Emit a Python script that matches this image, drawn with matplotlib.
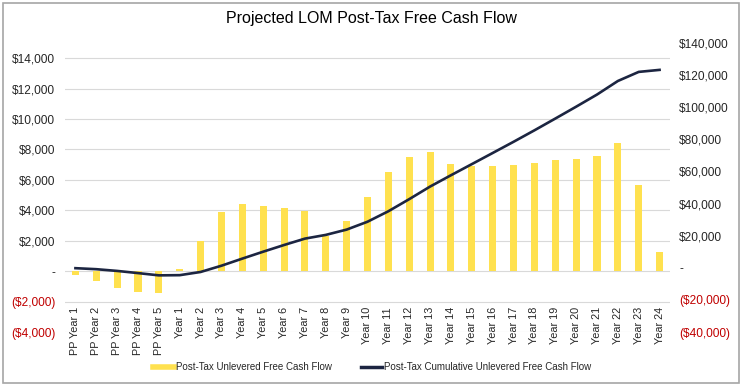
import numpy as np
import matplotlib
matplotlib.use("Agg")
import matplotlib.pyplot as plt
from matplotlib.lines import Line2D
from matplotlib.patches import Rectangle

plt.rcParams['font.family'] = ['Liberation Sans', 'DejaVu Sans']

# data
categories = ["PP Year 1", "PP Year 2", "PP Year 3", "PP Year 4", "PP Year 5"] + \
             [f"Year {i}" for i in range(1, 25)]
fcf = [-250, -630, -1080, -1350, -1410,
       120, 1990, 3900, 4420, 4310, 4160, 3980, 2320, 3300, 4900,
       6530, 7530, 7840, 7050, 6920, 6940, 6970, 7140, 7320, 7400,
       7560, 8450, 5670, 1260]
cum_fcf = [-250, -880, -1960, -3310, -4720,
           -4600, -2610, 1290, 5710, 10020, 14180, 18160, 20480, 23780, 28680,
           35210, 42740, 50580, 57630, 64550, 71490, 78460, 85600, 92920, 100320,
           107880, 116330, 122000, 123260]
left_ticks = [-4000, -2000, 0, 2000, 4000, 6000, 8000, 10000, 12000, 14000]
right_ticks = [-40000, -20000, 0, 20000, 40000, 60000, 80000, 100000, 120000, 140000]

bar_color = "#FFE14F"
line_color = "#1C2541"
neg_color = "#C00000"
txt_color = "#262626"

W, H = 743, 388
fig = plt.figure(figsize=(W / 100, H / 100), dpi=100)
ax = fig.add_axes([65 / W, (H - 332) / H, (670 - 65) / W, (332 - 43) / H])
ax2 = ax.twinx()

x = np.arange(len(categories))
ax.bar(x, fcf, width=0.34, color=bar_color, zorder=2)
ax2.plot(x, cum_fcf, color=line_color, lw=1.9, zorder=3)

ax.set_xlim(-0.5, len(categories) - 0.5)
ax.set_ylim(-4000, 15000)
ax2.set_ylim(-40000, 140000)


def money(v):
    if v == 0:
        return "-"
    if v < 0:
        return f"(${-v:,.0f})"
    return f"${v:,.0f}"


ax.set_yticks(left_ticks)
ax.set_yticklabels([money(v) for v in left_ticks])
ax2.set_yticks(right_ticks)
ax2.set_yticklabels([money(v) for v in right_ticks])
for lab, v in zip(ax.get_yticklabels(), left_ticks):
    lab.set_color(neg_color if v < 0 else txt_color)
for lab, v in zip(ax2.get_yticklabels(), right_ticks):
    lab.set_color(neg_color if v < 0 else txt_color)

ax.grid(axis='y', color="#D9D9D9", lw=0.8, zorder=0)
ax.set_axisbelow(True)
for a in (ax, ax2):
    for s in a.spines.values():
        s.set_visible(False)
ax.tick_params(axis='y', length=0, pad=7, labelsize=8.6)
ax2.tick_params(axis='y', length=0, pad=6.5, labelsize=8.6)

ax.set_xticks(x)
ax.set_xticklabels(categories, rotation=90, fontsize=7.8, color=txt_color)
ax.tick_params(axis='x', length=0, pad=-18)

fig.text(371 / W, 1 - 19 / H, "Projected LOM Post-Tax Free Cash Flow",
         ha='center', va='center', fontsize=11.5, color="#000000")

handles = [Line2D([], [], color=bar_color, lw=4),
           Line2D([], [], color=line_color, lw=2.5)]
fig.legend(handles, ["Post-Tax Unlevered Free Cash Flow",
                     "Post-Tax Cumulative Unlevered Free Cash Flow"],
           loc='center', bbox_to_anchor=(372 / W, 1 - 367 / H), ncol=2,
           frameon=False, fontsize=7.0, handlelength=2.2, handletextpad=0.15,
           columnspacing=3.0, labelcolor=txt_color)

fig.patches.append(Rectangle((3 / W, 5 / H), 736 / W, 380 / H, transform=fig.transFigure,
                             fill=False, edgecolor="#A6A6A6", lw=1.2))

fig.savefig("out.png", dpi=100)
